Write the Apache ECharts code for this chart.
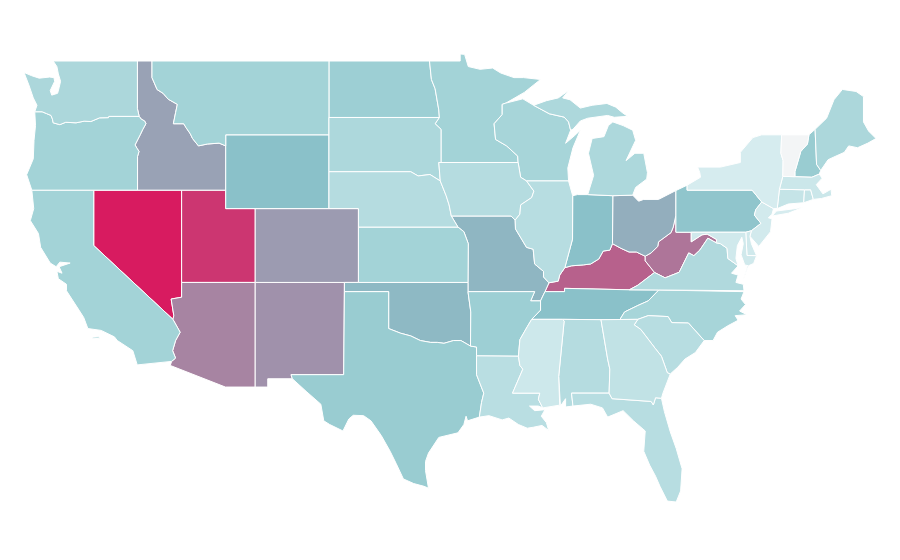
<!DOCTYPE html>
<html>
<head>
<meta charset="utf-8">
<style>
html, body { margin: 0; padding: 0; background: #fff; }
#main { width: 900px; height: 560px; }
</style>
<script src="https://cdn.jsdelivr.net/npm/echarts@6/dist/echarts.min.js"></script>
</head>
<body>
<div id="main"></div>
<script>
var stateNames = ['Nevada','Utah','Kentucky','West Virginia','Arizona','New Mexico','Colorado','Idaho','Ohio','Missouri','Oklahoma','Wyoming','Indiana','Tennessee','Pennsylvania','New Hampshire','Texas','Arkansas','North Dakota','California','Montana','Oregon','Kansas','Minnesota','Wisconsin','North Carolina','Washington','Maine','South Dakota','Michigan','Virginia','Nebraska','Iowa','Alabama','Illinois','South Carolina','Florida','Louisiana','Georgia','Connecticut','Rhode Island','Massachusetts','Mississippi','New Jersey','Delaware','Maryland','New York','Vermont'];
var stateValues = [100,96,89.5,86.5,84.2,82.2,80.7,79.7,77.9,76.7,76.2,75,75,75,69,60,60,56,56,50,50,50,50,50,48,48,45.6,45.6,45.1,45.1,43.6,41,41,41,40,40,40,39,35.3,33.4,33.4,30.4,29.4,27,28,28,25,0];
var rampColors = ['#f3f5f6','#d6ecef','#a3d3d7','#8ac1c9','#d81b60'];

// state outlines in lon/lat, no map file is available offline
var stateShapes = {
  'Washington': [[[-124.73,48.38],[-124.2,48.2],[-123.7,48.07],[-123,48.13],[-122.7,48.1],[-122.65,47.9],[-122.95,47.4],[-122.85,47.15],[-122.45,47.25],[-122.35,47.55],[-122.25,47.9],[-122.4,48.3],[-122.5,48.7],[-122.75,49],[-117.04,49],[-117.04,46.42],[-116.92,46],[-118.98,46],[-119,45.93],[-119.6,45.92],[-120.2,45.72],[-120.65,45.74],[-121.2,45.65],[-121.9,45.68],[-122.3,45.55],[-122.75,45.65],[-122.8,45.85],[-122.9,46.05],[-123.2,46.15],[-123.5,46.25],[-124,46.25],[-123.85,46.6],[-124.1,47],[-124.4,47.7]]],
  'Oregon': [[[-124,46.25],[-123.5,46.25],[-123.2,46.15],[-122.9,46.05],[-122.8,45.85],[-122.75,45.65],[-122.3,45.55],[-121.9,45.68],[-121.2,45.65],[-120.65,45.74],[-120.2,45.72],[-119.6,45.92],[-119,45.93],[-118.98,46],[-116.92,46],[-116.78,45.85],[-116.55,45.75],[-116.46,45.6],[-116.67,45.3],[-116.85,45],[-117.2,44.45],[-117.05,44.25],[-116.93,44.1],[-117.03,43.83],[-117.03,42],[-124.2,42],[-124.55,42.84],[-124.1,43.7],[-124.05,44.7],[-123.95,45.5]]],
  'California': [[[-124.2,42],[-120,42],[-120,39],[-114.63,35],[-114.14,34.3],[-114.45,33.85],[-114.65,33.3],[-114.45,32.9],[-114.72,32.72],[-117.05,32.53],[-117.35,33.3],[-118.4,33.85],[-118.6,34.05],[-119.5,34.4],[-120.4,34.5],[-120.68,35.1],[-121,35.5],[-121.85,36.55],[-121.85,36.9],[-122.4,37.2],[-122.5,37.6],[-122.15,37.5],[-122.35,37.85],[-121.6,38.05],[-122.3,38.1],[-122.55,37.85],[-122.95,38.05],[-123.6,38.9],[-123.75,39.65],[-124.3,40.35],[-124.07,41]],
    [[-120.1,34.03],[-119.65,34.05],[-119.6,33.97],[-120.05,33.95]]],
  'Nevada': [[[-120,42],[-114.04,42],[-114.04,36.2],[-114.75,36.1],[-114.57,35.2],[-114.63,35],[-120,39]]],
  'Idaho': [[[-117.04,49],[-116.05,49],[-116.05,48.1],[-115.7,47.45],[-115.3,47.25],[-114.95,46.93],[-114.33,46.65],[-114.45,46.2],[-114.6,45.6],[-113.9,45.6],[-113.75,45.4],[-113.45,45.05],[-113.3,44.8],[-112.9,44.4],[-112.3,44.5],[-111.5,44.55],[-111.05,44.4],[-111.05,42],[-117.03,42],[-117.03,43.83],[-116.93,44.1],[-117.05,44.25],[-117.2,44.45],[-116.85,45],[-116.67,45.3],[-116.46,45.6],[-116.55,45.75],[-116.78,45.85],[-116.92,46],[-117.04,46.42]]],
  'Montana': [[[-116.05,49],[-104.05,49],[-104.05,45],[-111.05,45],[-111.05,44.4],[-111.5,44.55],[-112.3,44.5],[-112.9,44.4],[-113.3,44.8],[-113.45,45.05],[-113.75,45.4],[-113.9,45.6],[-114.6,45.6],[-114.45,46.2],[-114.33,46.65],[-114.95,46.93],[-115.3,47.25],[-115.7,47.45],[-116.05,48.1]]],
  'Wyoming': [[[-111.05,45],[-104.05,45],[-104.05,41],[-111.05,41]]],
  'Utah': [[[-114.04,42],[-111.05,42],[-111.05,41],[-109.05,41],[-109.05,37],[-114.04,37]]],
  'Arizona': [[[-114.04,37],[-109.05,37],[-109.05,31.33],[-111.07,31.33],[-114.81,32.5],[-114.72,32.72],[-114.45,32.9],[-114.65,33.3],[-114.45,33.85],[-114.14,34.3],[-114.63,35],[-114.57,35.2],[-114.75,36.1],[-114.04,36.2]]],
  'New Mexico': [[[-109.05,37],[-103,37],[-103.05,32],[-106.62,32],[-106.53,31.78],[-108.2,31.78],[-108.2,31.33],[-109.05,31.33]]],
  'Colorado': [[[-109.05,41],[-102.05,41],[-102.05,37],[-109.05,37]]],
  'Texas': [[[-106.62,32],[-103.05,32],[-103,36.5],[-100,36.5],[-100,34.5],[-99.2,34.25],[-98.5,34.1],[-97.85,33.85],[-97.15,33.75],[-96.7,33.75],[-96.25,33.7],[-95.6,33.85],[-95.1,33.85],[-94.45,33.55],[-94.04,33.5],[-94.04,33.02],[-94.04,32],[-93.55,31],[-93.7,30.5],[-93.85,29.7],[-94.65,29.5],[-94.75,29.75],[-94.9,29.3],[-95.3,28.85],[-96.6,28.6],[-97.3,27.75],[-97.5,27.3],[-97.5,26.8],[-97.3,25.85],[-97.6,25.95],[-98.3,26.1],[-99,26.35],[-99.5,27.2],[-99.9,27.85],[-100.5,28.7],[-101.2,29.5],[-101.7,29.78],[-102.4,29.8],[-102.7,29.6],[-103.1,28.95],[-104,29.3],[-104.4,29.5],[-104.6,30.4],[-105.6,31.1],[-106.53,31.78]]],
  'Oklahoma': [[[-103,37],[-94.62,37],[-94.62,36.5],[-94.43,35.4],[-94.45,33.55],[-95.1,33.85],[-95.6,33.85],[-96.25,33.7],[-96.7,33.75],[-97.15,33.75],[-97.85,33.85],[-98.5,34.1],[-99.2,34.25],[-100,34.5],[-100,36.5],[-103,36.5]]],
  'Kansas': [[[-102.05,40],[-95.3,40],[-94.9,39.75],[-94.6,39.1],[-94.62,37],[-102.05,37]]],
  'Nebraska': [[[-104.05,43],[-98.5,43],[-98,42.77],[-97.2,42.85],[-96.5,42.5],[-96.1,41.7],[-95.9,41.2],[-95.75,40.6],[-95.3,40],[-102.05,40],[-102.05,41],[-104.05,41]]],
  'South Dakota': [[[-104.05,45.94],[-96.56,45.94],[-96.85,45.6],[-96.45,45.3],[-96.45,43.5],[-96.6,43.5],[-96.5,42.5],[-97.2,42.85],[-98,42.77],[-98.5,43],[-104.05,43]]],
  'North Dakota': [[[-104.05,49],[-97.23,49],[-97.1,48],[-96.85,47.5],[-96.6,46.35],[-96.56,45.94],[-104.05,45.94]]],
  'Minnesota': [[[-97.23,49],[-95.15,49],[-95.15,49.38],[-94.85,49.36],[-94.6,48.7],[-93.8,48.55],[-92.95,48.62],[-92.4,48.35],[-91.5,48.1],[-90.85,48.1],[-89.7,48],[-90.8,47.3],[-92.05,46.72],[-92.3,46.65],[-92.3,46.1],[-92.85,45.6],[-92.75,44.75],[-92,44.4],[-91.25,43.85],[-91.22,43.5],[-96.45,43.5],[-96.45,45.3],[-96.85,45.6],[-96.56,45.94],[-96.6,46.35],[-96.85,47.5],[-97.1,48]]],
  'Iowa': [[[-96.6,43.5],[-91.22,43.5],[-91.05,42.7],[-90.65,42.5],[-90.15,41.95],[-90.3,41.6],[-91.05,41.2],[-91.1,40.7],[-91.42,40.38],[-91.7,40.6],[-95.75,40.6],[-95.9,41.2],[-96.1,41.7],[-96.5,42.5]]],
  'Missouri': [[[-95.75,40.6],[-91.7,40.6],[-91.42,40.38],[-91.4,39.9],[-90.65,38.9],[-90.2,38.8],[-90.1,38],[-89.5,37.6],[-89.5,37.3],[-89.13,36.98],[-89.4,36.5],[-89.7,36],[-90.37,36],[-90.1,36.5],[-94.62,36.5],[-94.62,37],[-94.6,39.1],[-94.9,39.75],[-95.3,40]]],
  'Arkansas': [[[-94.62,36.5],[-90.1,36.5],[-90.37,36],[-89.7,36],[-89.7,35.5],[-90.3,35],[-90.6,34.6],[-91.1,33.9],[-91.2,33],[-94.04,33.02],[-94.04,33.5],[-94.45,33.55],[-94.43,35.4]]],
  'Louisiana': [[[-94.04,33.02],[-91.2,33],[-91.1,32.5],[-90.9,32.3],[-91.6,31],[-89.75,31],[-89.85,30.67],[-89.55,30.2],[-89.85,30.3],[-90.45,30.3],[-90.1,30.05],[-89.4,30.1],[-89.65,29.75],[-89.3,29.4],[-89.15,28.98],[-89.6,29.25],[-90.2,29.15],[-90.6,29.1],[-91.2,29.3],[-91.85,29.65],[-92.3,29.55],[-93.2,29.78],[-93.85,29.7],[-93.7,30.5],[-93.55,31],[-94.04,32]]],
  'Wisconsin': [[[-92.05,46.72],[-90.9,46.95],[-90.17,46.6],[-89.1,46.14],[-88.1,45.96],[-87.8,45.7],[-87.66,45.25],[-88,44.54],[-87.4,44.95],[-87,45.25],[-87.5,44.3],[-87.85,43.2],[-87.8,42.5],[-90.65,42.5],[-91.05,42.7],[-91.22,43.5],[-91.25,43.85],[-92,44.4],[-92.75,44.75],[-92.85,45.6],[-92.3,46.1],[-92.3,46.65]]],
  'Michigan': [[[-86.5,41.76],[-84.8,41.7],[-83.45,41.73],[-83.25,42.15],[-82.5,42.6],[-82.45,42.95],[-82.7,44],[-83.3,44],[-83.9,43.6],[-83.25,44.7],[-83.45,45.25],[-84.1,45.5],[-84.8,45.7],[-85.1,45.5],[-85.4,44.9],[-86.2,44.8],[-86.45,44],[-86.1,42.8]],
    [[-90.17,46.6],[-89.1,46.14],[-88.1,45.96],[-87.8,45.7],[-87.66,45.25],[-87.5,45.3],[-87,45.75],[-86.5,45.9],[-85.15,46.05],[-84.7,45.95],[-83.8,46],[-84.15,46.2],[-84.6,46.5],[-85.2,46.7],[-86.2,46.6],[-87,46.45],[-87.7,46.9],[-88.2,47],[-87.8,47.4],[-88.5,47],[-89.3,46.85]]],
  'Illinois': [[[-90.65,42.5],[-87.8,42.5],[-87.52,41.7],[-87.53,39.35],[-87.95,38.1],[-88.05,37.8],[-88.4,37.4],[-88.5,37.07],[-89.13,36.98],[-89.5,37.3],[-89.5,37.6],[-90.1,38],[-90.2,38.8],[-90.65,38.9],[-91.4,39.9],[-91.42,40.38],[-91.1,40.7],[-91.05,41.2],[-90.3,41.6],[-90.15,41.95]]],
  'Indiana': [[[-87.52,41.7],[-87.2,41.76],[-86.5,41.76],[-84.8,41.7],[-84.82,39.1],[-85,38.75],[-85.45,38.7],[-85.75,38.27],[-86.3,38],[-86.8,37.95],[-87.6,37.9],[-88.05,37.8],[-87.95,38.1],[-87.53,39.35]]],
  'Ohio': [[[-84.8,41.7],[-83.45,41.73],[-83.05,41.4],[-82.7,41.5],[-81.7,41.5],[-80.52,41.98],[-80.52,40.64],[-80.7,40],[-80.85,39.7],[-81.7,39.2],[-81.75,38.95],[-82.2,38.6],[-82.6,38.42],[-83.2,38.65],[-83.7,38.65],[-84.25,38.85],[-84.82,39.1]]],
  'Kentucky': [[[-89.4,36.5],[-88.07,36.5],[-88.07,36.68],[-83.68,36.6],[-83.1,36.85],[-81.97,37.54],[-82.6,38.17],[-82.6,38.42],[-83.2,38.65],[-83.7,38.65],[-84.25,38.85],[-84.82,39.1],[-85,38.75],[-85.45,38.7],[-85.75,38.27],[-86.3,38],[-86.8,37.95],[-87.6,37.9],[-88.05,37.8],[-88.4,37.4],[-88.5,37.07],[-89.13,36.98]]],
  'Tennessee': [[[-90.3,35],[-88.2,35],[-85.6,34.98],[-84.32,34.99],[-84,35.4],[-83.1,35.75],[-82.4,36],[-81.68,36.59],[-83.68,36.6],[-88.07,36.68],[-88.07,36.5],[-89.4,36.5],[-89.7,36],[-89.7,35.5]]],
  'Mississippi': [[[-90.3,35],[-88.2,35],[-88.1,34.9],[-88.47,31.9],[-88.4,30.35],[-89.55,30.2],[-89.85,30.67],[-89.75,31],[-91.6,31],[-90.9,32.3],[-91.1,32.5],[-91.2,33],[-91.1,33.9],[-90.6,34.6]]],
  'Alabama': [[[-88.2,35],[-85.6,34.98],[-85.15,32.85],[-85,32.3],[-85.05,31],[-87.6,31],[-87.5,30.3],[-88,30.25],[-88,30.7],[-88.35,30.3],[-88.4,30.35],[-88.47,31.9],[-88.1,34.9]]],
  'Georgia': [[[-85.6,34.98],[-83.1,35],[-83.35,34.7],[-82.9,34.45],[-81.9,33.4],[-81.5,33],[-81.1,32.1],[-80.9,32.04],[-81.4,31],[-81.5,30.72],[-81.9,30.75],[-82.05,30.36],[-82.2,30.55],[-84.85,30.7],[-85.05,31],[-85,32.3],[-85.15,32.85]]],
  'Florida': [[[-87.6,31],[-85.05,31],[-84.85,30.7],[-82.2,30.55],[-82.05,30.36],[-81.9,30.75],[-81.5,30.72],[-81.3,30],[-80.9,28.9],[-80.5,28],[-80.1,26.9],[-80.2,25.7],[-80.5,25.1],[-81.1,25.15],[-81.6,25.95],[-81.9,26.5],[-82.3,27.1],[-82.7,27.85],[-82.6,28.95],[-83.4,29.5],[-84.1,30.05],[-85.15,29.7],[-85.5,30.2],[-86.3,30.4],[-87.5,30.3]]],
  'South Carolina': [[[-83.1,35],[-82.4,35.2],[-81.05,35.15],[-80.8,34.82],[-79.67,34.8],[-78.6,33.85],[-79.2,33.2],[-79.9,32.85],[-80.4,32.4],[-80.9,32.04],[-81.1,32.1],[-81.5,33],[-81.9,33.4],[-82.9,34.45],[-83.35,34.7]]],
  'North Carolina': [[[-84.32,34.99],[-83.1,35],[-82.4,35.2],[-81.05,35.15],[-80.8,34.82],[-79.67,34.8],[-78.6,33.85],[-78,33.85],[-77.7,34.3],[-77,34.65],[-76.3,34.95],[-76.5,35.2],[-75.7,35.25],[-76.2,35.45],[-75.8,35.8],[-76.1,36.1],[-75.9,36.5],[-81.68,36.59],[-82.4,36],[-83.1,35.75],[-84,35.4]]],
  'Virginia': [[[-83.68,36.6],[-81.68,36.59],[-75.9,36.55],[-75.95,36.9],[-76.45,37],[-76.3,37.4],[-76.75,37.5],[-76.3,37.9],[-77,38.3],[-77.05,38.85],[-77.5,39.1],[-77.8,39.15],[-78.35,39.4],[-78.9,38.75],[-79.3,38.45],[-79.65,38.6],[-80.3,37.55],[-81.25,37.25],[-81.97,37.54],[-83.1,36.85]],
    [[-75.95,37.15],[-75.6,37.9],[-75.25,38.03],[-75.65,37.95]]],
  'West Virginia': [[[-82.6,38.17],[-81.97,37.54],[-81.25,37.25],[-80.3,37.55],[-79.65,38.6],[-79.3,38.45],[-78.9,38.75],[-78.35,39.4],[-77.8,39.15],[-77.75,39.32],[-78.4,39.62],[-78.75,39.58],[-79.48,39.2],[-79.48,39.72],[-80.52,39.72],[-80.52,40.64],[-80.7,40],[-80.85,39.7],[-81.7,39.2],[-81.75,38.95],[-82.2,38.6],[-82.6,38.42]]],
  'Pennsylvania': [[[-80.52,41.98],[-79.76,42.27],[-79.76,42],[-75.35,42],[-74.7,41.36],[-75.1,40.95],[-75.2,40.65],[-74.75,40.2],[-75.4,39.8],[-75.78,39.72],[-80.52,39.72]]],
  'New York': [[[-79.76,42.27],[-78.85,42.7],[-78.9,42.95],[-79.05,43.25],[-77.5,43.25],[-76.15,43.5],[-76.15,44.05],[-75.3,44.85],[-74.7,45],[-73.35,45],[-73.4,44],[-73.25,43.6],[-73.27,42.75],[-73.5,42.05],[-73.65,41],[-73.9,41],[-74.7,41.36],[-75.35,42],[-79.76,42]],
    [[-74,40.6],[-72.9,40.75],[-71.9,41.07],[-72.6,40.98],[-73.7,40.87]]],
  'New Jersey': [[[-74.7,41.36],[-73.9,41],[-74,40.7],[-74.25,40.5],[-74,40.45],[-74.1,39.75],[-74.9,38.95],[-75.5,39.5],[-75.4,39.8],[-74.75,40.2],[-75.2,40.65],[-75.1,40.95]]],
  'Connecticut': [[[-73.65,41],[-73.5,42.05],[-71.8,42.02],[-71.85,41.32],[-72.9,41.25]]],
  'Rhode Island': [[[-71.8,42.02],[-71.38,42.02],[-71.2,41.5],[-71.85,41.32]]],
  'Massachusetts': [[[-73.5,42.05],[-73.27,42.75],[-72.45,42.73],[-71.3,42.7],[-70.8,42.87],[-70.6,42.65],[-71,42.3],[-70.55,41.8],[-70,42.05],[-69.95,41.7],[-70.65,41.55],[-71.2,41.5],[-71.38,42.02],[-71.8,42.02]]],
  'Vermont': [[[-73.35,45],[-71.5,45],[-71.6,44.5],[-72.05,44.1],[-72.45,43],[-72.45,42.73],[-73.27,42.75],[-73.25,43.6],[-73.4,44]]],
  'New Hampshire': [[[-71.5,45],[-71.08,45.3],[-70.98,43.4],[-70.7,43.07],[-70.8,42.87],[-71.3,42.7],[-72.45,42.73],[-72.45,43],[-72.05,44.1],[-71.6,44.5]]],
  'Maine': [[[-71.08,45.3],[-70.3,45.9],[-69.8,46.9],[-69.23,47.46],[-68.3,47.35],[-67.8,47.07],[-67.8,45.7],[-67.45,45.2],[-66.95,44.8],[-67.5,44.55],[-68.2,44.3],[-68.8,44.4],[-69.1,44.05],[-69.8,43.8],[-70.2,43.65],[-70.7,43.07],[-70.98,43.4]]],
  'Maryland': [[[-79.48,39.72],[-75.78,39.72],[-75.7,38.46],[-75.05,38.45],[-75.25,38.03],[-75.6,37.9],[-75.85,37.95],[-76.1,38.5],[-75.95,39.1],[-76.05,39.45],[-76.35,39],[-76.45,38.3],[-76.3,37.9],[-77,38.3],[-77.05,38.85],[-77.5,39.1],[-77.8,39.15],[-77.75,39.32],[-78.4,39.62],[-78.75,39.58],[-79.48,39.2]]],
  'Delaware': [[[-75.78,39.72],[-75.4,39.8],[-75.5,39.5],[-75.4,39.1],[-75.05,38.45],[-75.7,38.46]]]
};

var usGeo = { type: 'FeatureCollection', features: [] };
stateNames.forEach(function(name) {
	usGeo.features.push({
		type : 'Feature',
		properties : { name : name },
		geometry : {
			type : 'MultiPolygon',
			coordinates : stateShapes[name].map(function(ring) {
				return [ ring.concat([ ring[0] ]) ];
			})
		}
	});
});
echarts.registerMap('USA', usGeo);

var mapChart = echarts.init(document.getElementById('main'));
mapChart.setOption({
	backgroundColor : '#fff',
	animation : false,
	visualMap : {
		show : false,
		min : 0,
		max : 100,
		inRange : { color : rampColors }
	},
	series : [ {
		type : 'map',
		map : 'USA',
		roam : false,
		aspectScale : 0.8,
		left : 24,
		right : 24,
		top : 54,
		bottom : 58,
		label : { show : false },
		itemStyle : { borderColor : '#fff', borderWidth : 1 },
		data : stateNames.map(function(name, i) {
			return { name : name, value : stateValues[i] };
		})
	} ]
});
</script>
</body>
</html>
